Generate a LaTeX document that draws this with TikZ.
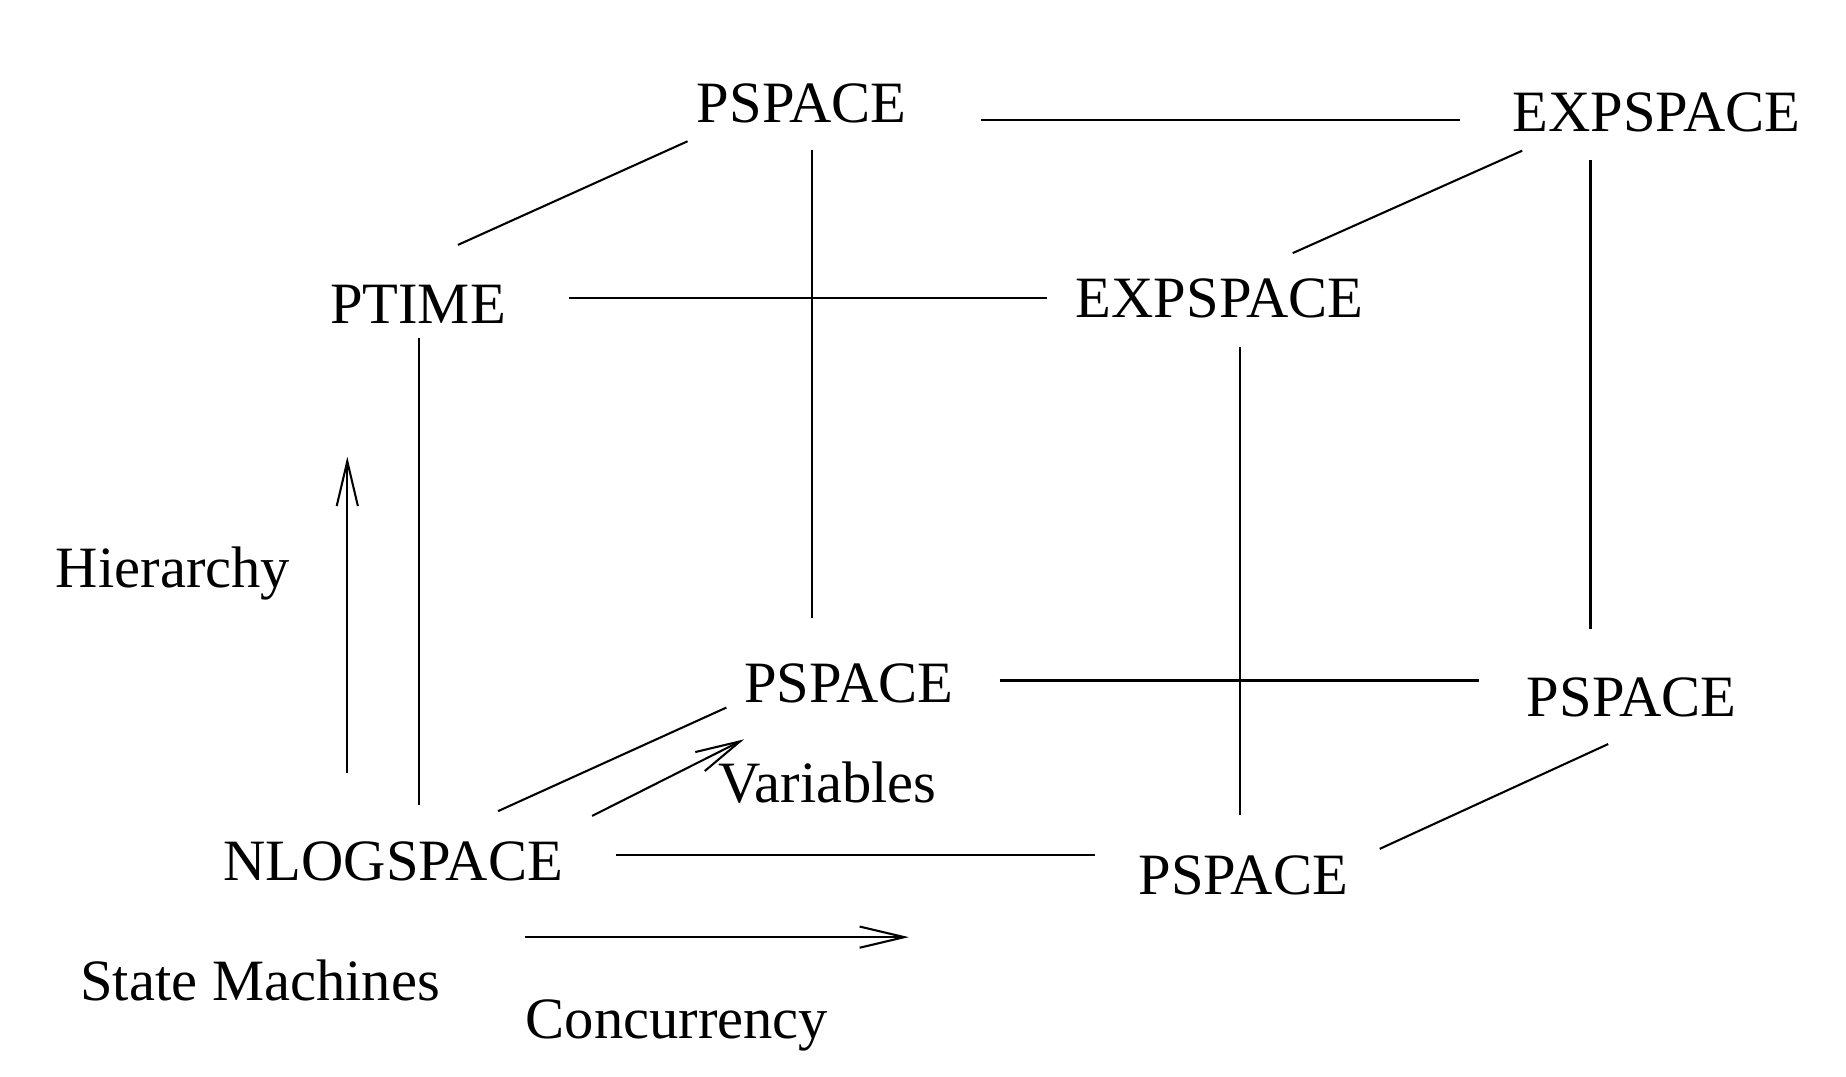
\documentclass[tikz,border=0pt]{standalone}
\usepackage{fontspec}
\setmainfont{Liberation Serif}
\usepackage{tikz}
\usetikzlibrary{calc, arrows.meta}

\begin{document}
\begin{tikzpicture}[x=0.01cm, y=-0.01cm, line width=0.5pt,
    cls/.style={inner sep=0pt, anchor=base, font=\fontsize{14.15}{16}\selectfont},
    dim/.style={-{Straight Barb[length=3.8mm, width=1.8mm]}}]
            \useasboundingbox (0, 0) rectangle (1568, 914);

            % complexity classes
            \node[cls] (pstop) at (681, 104) {PSPACE};
            \node[cls] (exptop) at (1407, 112) {EXPSPACE};
            \node[cls] (ptime) at (355, 275) {PTIME};
            \node[cls] (expmid) at (1036, 270) {EXPSPACE};
            \node[cls] (psmid) at (721, 597) {PSPACE};
            \node[cls] (psright) at (1386, 609) {PSPACE};
            \node[cls] (nlog) at (334, 748) {NLOGSPACE};
            \node[cls] (psbot) at (1056, 760) {PSPACE};

            % axis labels
            \node[cls] (hier) at (147, 499) {Hierarchy};
            \node[cls] (vars) at (703, 682) {Variables};
            \node[cls] (sm) at (221, 850) {State Machines};
            \node[cls] (conc) at (575, 882) {Concurrency};

            \coordinate (hs) at (295, 657);
            \coordinate (he) at (295, 388);
            \coordinate (vs) at (503, 693);
            \coordinate (ve) at (632, 628);
            \coordinate (cs) at (446, 796);
            \coordinate (ce) at (772, 796);

            % cube edges
            \draw ($(pstop.base)+(152, -2)$) -- ($(exptop.base)+(-167, -10)$);
            \draw ($(ptime.base)+(34, -67)$) -- ($(pstop.base)+(-97, 16)$);
            \draw ($(pstop.base)+(9, 23)$) -- ($(psmid.base)+(-31, -72)$);
            \draw ($(expmid.base)+(62, -55)$) -- ($(exptop.base)+(-114, 16)$);
            \draw ($(exptop.base)+(-56, 24)$) -- ($(psright.base)+(-35, -75)$);
            \draw ($(ptime.base)+(128, -22)$) -- ($(expmid.base)+(-147, -17)$);
            \draw ($(ptime.base)+(1, 12)$) -- ($(nlog.base)+(22, -64)$);
            \draw ($(expmid.base)+(17, 25)$) -- ($(psbot.base)+(-3, -68)$);
            \draw ($(psmid.base)+(128, -19)$) -- ($(psright.base)+(-130, -31)$);
            \draw ($(nlog.base)+(89, -59)$) -- ($(psmid.base)+(-104, 4)$);
            \draw ($(psbot.base)+(116, -39)$) -- ($(psright.base)+(-20, 23)$);
            \draw ($(nlog.base)+(189, -22)$) -- ($(psbot.base)+(-126, -34)$);

            % directions
            \draw[dim] (hs) -- (he);
            \draw[dim] (vs) -- (ve);
            \draw[dim] (cs) -- (ce);
        \end{tikzpicture}
\end{document}
